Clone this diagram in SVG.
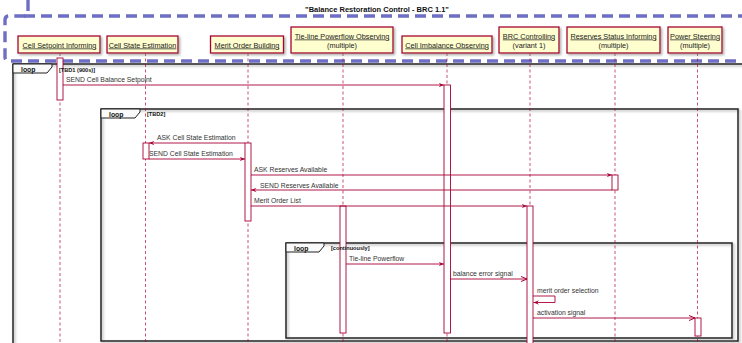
<svg xmlns="http://www.w3.org/2000/svg" width="742" height="343" viewBox="0 0 742 343">
<defs>
<filter id="sh" x="-10%" y="-10%" width="130%" height="140%">
<feDropShadow dx="1.5" dy="1.5" stdDeviation="0.8" flood-color="#777" flood-opacity="0.6"/>
</filter>
<marker id="af" viewBox="0 0 6 5" refX="5.5" refY="2.5" markerWidth="6" markerHeight="5" markerUnits="userSpaceOnUse" orient="auto">
<path d="M0,0.3 L5.5,2.5 L0,4.7 L2,2.5 Z" fill="#A80036"/>
</marker>
<marker id="ao" viewBox="0 0 7 6" refX="6" refY="3" markerWidth="7" markerHeight="6" markerUnits="userSpaceOnUse" orient="auto">
<path d="M0,0.5 L6,3 L0,5.5" fill="none" stroke="#A80036" stroke-width="1"/>
</marker>
<style>
text{font-family:"Liberation Sans",Arial,sans-serif;}
.pbox{fill:#FEFECE;stroke:#A80036;stroke-width:1.3;filter:url(#sh);}
.pt{font-size:7.3px;fill:#222;text-anchor:middle;}
.ptu{text-decoration:underline;}
.life{stroke:#A80036;stroke-width:0.9;stroke-dasharray:3,2.5;fill:none;opacity:0.75;}
.act{fill:#fff;stroke:#A80036;stroke-width:0.9;}
.msg{stroke:#A80036;stroke-width:0.9;fill:none;}
.mt{font-size:6.8px;fill:#333;}
.frame{fill:none;stroke:#222;stroke-width:1.5;filter:url(#sh);}
.tab{fill:#FAFAFA;stroke:#222;stroke-width:1;}
.lt{font-size:6.8px;font-weight:bold;fill:#111;}
.gt{font-size:5.6px;font-weight:bold;fill:#111;}
.dash{fill:none;stroke:#6E6EC4;stroke-width:3.4;stroke-dasharray:11,6;}
</style>
</defs>
<rect width="742" height="343" fill="#fff"/>

<g id="title">
<text x="377" y="11.5" style="font-size:7.5px;font-weight:bold;fill:#111;text-anchor:middle;">"Balance Restoration Control - BRC 1.1"</text>
</g>

<g id="box-group">
<path class="dash" d="M28,0 V12 Q28,16 24,16 H9 Q5,16 5,20 V57 Q5,61 9,61 H742"/>
<path class="dash" d="M24,16 H742"/>
</g>

<g id="loop-frames">
<rect class="frame" x="13" y="64" width="800" height="400"/>
<path class="tab" d="M13,64 H52 V67 L47,73 H13 Z"/>
<text class="lt" x="21" y="71.5">loop</text>

<rect class="frame" x="101" y="109" width="637" height="232"/>
<path class="tab" d="M101,109 H140 V112 L135,118 H101 Z"/>
<text class="lt" x="109" y="116.5">loop</text>

<rect class="frame" x="286" y="243" width="446" height="95"/>
<path class="tab" d="M286,243 H324 V246 L319,252 H286 Z"/>
<text class="lt" x="294" y="250.5">loop</text>
</g>

<g id="p-cell-setpoint">
<line class="life" x1="60" y1="53" x2="60" y2="343"/>
<rect class="pbox" x="18" y="36" width="82" height="17"/>
<text class="pt ptu" x="59.5" y="47.5">Cell Setpoint Informing</text>
<rect class="act" x="57" y="58" width="6" height="42"/>
</g>

<g id="p-cell-state">
<line class="life" x1="145.5" y1="53" x2="145.5" y2="343"/>
<rect class="pbox" x="107" y="36" width="71" height="17"/>
<text class="pt ptu" x="142.5" y="47.5">Cell State Estimation</text>
<rect class="act" x="143" y="143" width="6" height="16"/>
</g>

<g id="p-merit-order">
<line class="life" x1="248" y1="53" x2="248" y2="343"/>
<rect class="pbox" x="210.5" y="36" width="73" height="17"/>
<text class="pt ptu" x="247" y="47.5">Merit Order Building</text>
<rect class="act" x="245" y="143" width="6" height="78"/>
</g>

<g id="p-tieline">
<line class="life" x1="343" y1="53" x2="343" y2="343"/>
<rect class="pbox" x="291" y="27" width="102" height="26"/>
<text class="pt ptu" x="342" y="38.5">Tie-line Powerflow Observing</text>
<text class="pt" x="342" y="47.5">(multiple)</text>
<rect class="act" x="340" y="206" width="6" height="127"/>
</g>

<g id="p-cell-imbalance">
<line class="life" x1="447" y1="53" x2="447" y2="343"/>
<rect class="pbox" x="402" y="36" width="90" height="17"/>
<text class="pt ptu" x="447" y="47.5">Cell Imbalance Observing</text>
<rect class="act" x="444" y="85" width="6.5" height="248"/>
</g>

<g id="p-brc">
<line class="life" x1="530" y1="53" x2="530" y2="343"/>
<rect class="pbox" x="499" y="27" width="60" height="26"/>
<text class="pt ptu" x="529" y="38.5">BRC Controlling</text>
<text class="pt" x="529" y="47.5">(variant 1)</text>
<rect class="act" x="527" y="206" width="6" height="140"/>
</g>

<g id="p-reserves">
<line class="life" x1="615" y1="53" x2="615" y2="343"/>
<rect class="pbox" x="567" y="27" width="93" height="26"/>
<text class="pt ptu" x="613.5" y="38.5">Reserves Status Informing</text>
<text class="pt" x="613.5" y="47.5">(multiple)</text>
<rect class="act" x="612" y="175" width="6" height="15"/>
</g>

<g id="p-power-steering">
<line class="life" x1="697.5" y1="53" x2="697.5" y2="343"/>
<rect class="pbox" x="668" y="27" width="54" height="26"/>
<text class="pt ptu" x="695" y="38.5">Power Steering</text>
<text class="pt" x="695" y="47.5">(multiple)</text>
<rect class="act" x="695" y="318" width="6" height="18"/>
</g>

<g id="loop-guards">
<text class="gt" x="59" y="71.5">[TBD1 (900s)]</text>
<text class="gt" x="147" y="116">[TBD2]</text>
<text class="gt" x="331" y="250">[continuously]</text>
</g>

<g id="connectors">
<line class="msg" x1="63" y1="85" x2="444" y2="85" marker-end="url(#af)"/>
<text class="mt" x="66" y="82">SEND Cell Balance Setpoint</text>

<line class="msg" x1="245" y1="143" x2="149" y2="143" marker-end="url(#af)"/>
<text class="mt" x="157" y="140">ASK Cell State Estimation</text>

<line class="msg" x1="149" y1="159" x2="245" y2="159" marker-end="url(#af)"/>
<text class="mt" x="149" y="156">SEND Cell State Estimation</text>

<line class="msg" x1="251" y1="175" x2="612" y2="175" marker-end="url(#af)"/>
<text class="mt" x="254" y="172">ASK Reserves Available</text>

<line class="msg" x1="612" y1="190" x2="251" y2="190" marker-end="url(#af)"/>
<text class="mt" x="260" y="188">SEND Reserves Available</text>

<line class="msg" x1="251" y1="206" x2="527" y2="206" marker-end="url(#af)"/>
<text class="mt" x="254" y="203">Merit Order List</text>

<line class="msg" x1="346" y1="264" x2="444" y2="264" marker-end="url(#af)"/>
<text class="mt" x="349" y="261">Tie-line Powerflow</text>

<line class="msg" x1="450.5" y1="279" x2="527" y2="279" marker-end="url(#ao)"/>
<text class="mt" x="453" y="276">balance error signal</text>

<path class="msg" d="M533,296 H555 V302.5 H533.5" marker-end="url(#af)"/>
<text class="mt" x="537" y="293">merit order selection</text>

<line class="msg" x1="533" y1="318" x2="695" y2="318" marker-end="url(#ao)"/>
<text class="mt" x="537" y="315">activation signal</text>
</g>
</svg>
